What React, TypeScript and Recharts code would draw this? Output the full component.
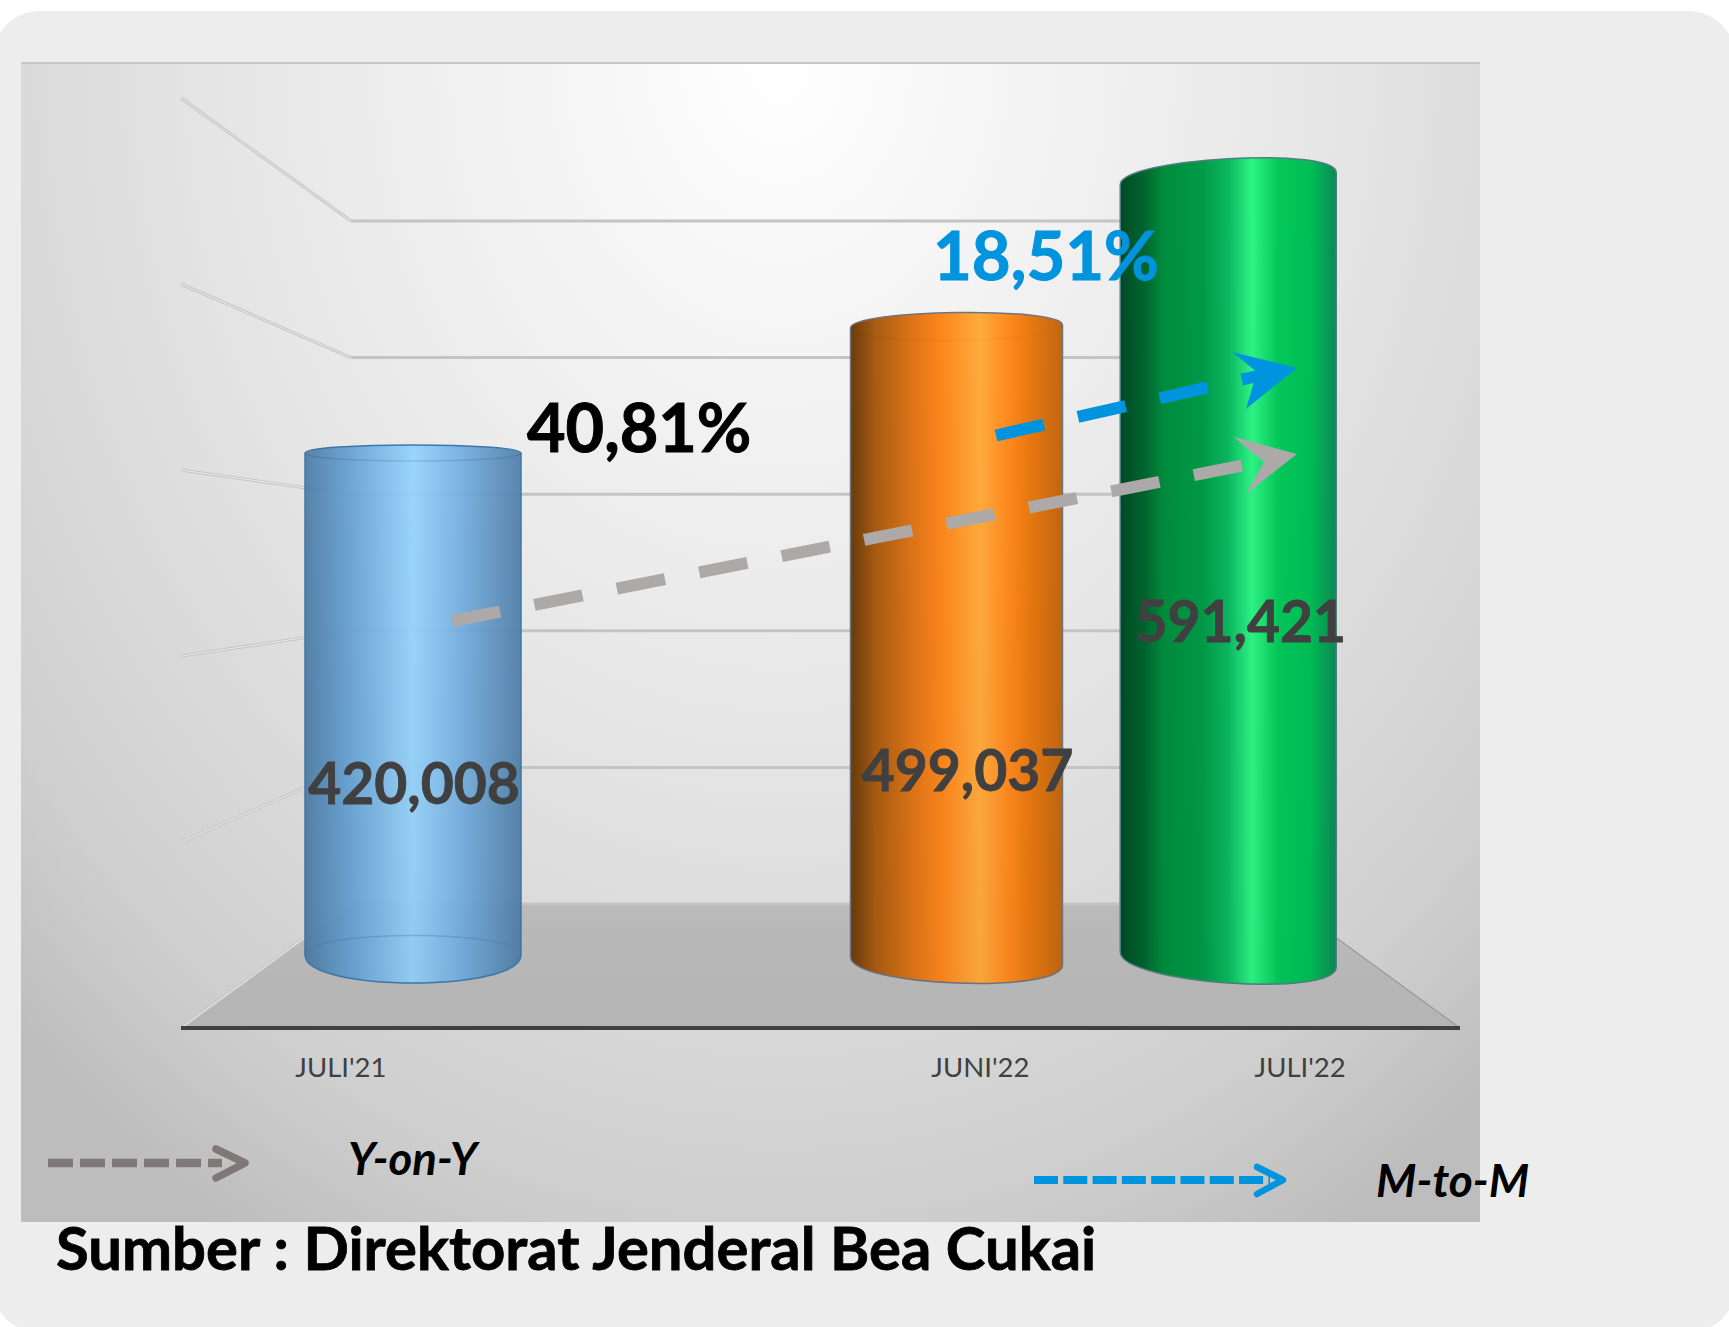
import React from "react";
import { BarChart, Bar, XAxis, YAxis, LabelList } from "recharts";

const categories = ["JULI'21", "", "JUNI'22", "JULI'22"];
const ekspor = [420008, null, 499037, 591421];
const wallTicks = [100000, 200000, 300000, 400000, 500000, 600000];
const yoyLabel = "40,81%";
const mtmLabel = "18,51%";
const sumber = "Sumber : Direktorat Jenderal Bea Cukai";

const data = categories.map((name, i) => ({ name, ekspor: ekspor[i] }));

const FONT = "Lato, sans-serif";

// how each cylinder sits in the fake 3D view, offsets from the bar rect
// the blank category draws no bar so there are only three of these
const looks = [
  { fill: "cylBlue", opacity: 0.92, edge: "#3f78a8", inset: 0, topL: 0, topR: 0, rise: 8, botL: -2, botR: -2, drop: 28, cap: 0.1, labelDx: 1, labelY: 804 },
  { fill: "cylOrange", opacity: 1, edge: "#6d7680", inset: 2, topL: 1.5, topR: -1.5, rise: 14, botL: 0, botR: 8, drop: 22, cap: 0.03, labelDx: 11, labelY: 791 },
  { fill: "cylGreen", opacity: 1, edge: "#4f7f80", inset: 0, topL: 6, topR: -6, rise: 20, botL: -5, botR: 10, drop: 23.5, cap: 0, labelDx: 12, labelY: 642 },
];

const Cylinder = (props: any) => {
  const { x, y, width, height, index } = props;
  const look = looks[index];
  const xl = x + look.inset;
  const xr = x + width - look.inset;
  const base = y + height;
  const yl = y + look.topL;
  const yr = y + look.topR;
  const bl = base + look.botL;
  const br = base + look.botR;
  const rise = (look.rise * 4) / 3;
  const drop = (look.drop * 4) / 3;
  const body = `M${xl},${yl} C${xl},${yl - rise} ${xr},${yr - rise} ${xr},${yr} L${xr},${br} C${xr},${br + drop} ${xl},${bl + drop} ${xl},${bl} Z`;
  const capFront = `M${xl},${yl} C${xl},${yl + rise} ${xr},${yr + rise} ${xr},${yr}`;
  const baseBack = `M${xl},${bl} C${xl},${bl - drop * 0.7} ${xr},${br - drop * 0.7} ${xr},${br}`;
  return (
    <g>
      <path d={body} fill={`url(#${look.fill})`} fillOpacity={look.opacity} stroke={look.edge} strokeWidth={1.5} />
      <path d={body} fill="url(#cylShade)" stroke="none" />
      <path d={capFront} fill="none" stroke="#000" strokeOpacity={look.cap} strokeWidth={1.5} />
      {index === 0 && <path d={baseBack} fill="none" stroke="#3f78a8" strokeOpacity={0.35} strokeWidth={1.5} />}
    </g>
  );
};

const CylinderLabel = (props: any) => {
  const { x, width, value, index } = props;
  if (value == null) return null;
  const look = looks[index];
  return (
    <text x={x + width / 2 + look.labelDx} y={look.labelY} textAnchor="middle" fontFamily={FONT} fontWeight={700} fontSize={57} fill="#404040" stroke="#404040" strokeWidth={0.8}>
      {Number(value).toLocaleString("en-US")}
    </text>
  );
};

// back wall lines, the tick y comes from the back wall axis
const WallTick = (props: any) => {
  const { y } = props;
  const frontY = 1028 - (904 - y) * (930 / 683);
  return (
    <g>
      <line x1={181} y1={frontY} x2={351} y2={y} stroke="#c4c4c4" strokeWidth={3} />
      <line x1={181} y1={frontY} x2={351} y2={y} stroke="#ececec" strokeWidth={1} />
      <line x1={351} y1={y} x2={1290} y2={y} stroke="#c4c4c4" strokeWidth={3} />
    </g>
  );
};

const Arrow = ({ d, head, color }: { d: string; head: string; color: string }) => (
  <g>
    <path d={d} fill="none" stroke={color} strokeWidth={12} strokeDasharray="49 35" />
    <polygon points={head} fill={color} />
  </g>
);

export default function App() {
  return (
    <div style={{ position: "absolute", left: 0, top: 0, width: 1729, height: 1327, background: "#fff", overflow: "hidden" }}>
      <div style={{ position: "absolute", left: -8, top: 11, width: 1744, height: 1322, borderRadius: 48, background: "#ededed" }} />
      <div
        style={{
          position: "absolute",
          left: 21,
          top: 62,
          width: 1459,
          height: 1160,
          boxSizing: "border-box",
          borderTop: "2px solid #c8c8c8",
          background: "radial-gradient(ellipse 1100px 1350px at 52% 0%, #ffffff 0%, #e6e6e6 50%, #cfcfcf 85%, #bdbdbd 100%)",
        }}
      />

      {/* walls and floor go in their own chart so the cylinders stay on top */}
      <div style={{ position: "absolute", left: 0, top: 0 }}>
        <BarChart width={1729} height={1327} data={data} margin={{ top: 60, right: 269, bottom: 269, left: 180 }}>
          <defs>
            <linearGradient id="floorFill" x1="0" x2="0" y1="0" y2="1">
              <stop offset="0" stopColor="#bababa" />
              <stop offset="1" stopColor="#b4b4b4" />
            </linearGradient>
          </defs>
          <polygon points="181,1028 1460,1028 1290,904 351,904" fill="url(#floorFill)" />
          <line x1={1460} y1={1028} x2={1290} y2={904} stroke="#9a9a9a" strokeWidth={1.2} />
          <YAxis
            yAxisId="wall"
            width={1}
            domain={[100000, 600000]}
            allowDataOverflow
            ticks={wallTicks}
            padding={{ top: 161, bottom: 124 }}
            axisLine={false}
            tickLine={false}
            interval={0}
            tick={(p: any) => <WallTick {...p} />}
          />
          <XAxis dataKey="name" height={30} axisLine={false} tickLine={false} tick={false} />
          <Bar dataKey="ekspor" yAxisId="wall" shape={() => null} isAnimationActive={false} />
        </BarChart>
      </div>

      <div style={{ position: "absolute", left: 0, top: 0 }}>
        <BarChart width={1729} height={1327} data={data} margin={{ top: 60, right: 269, bottom: 269, left: 181 }} barSize={216}>
          <defs>
            <linearGradient id="cylBlue" x1="0" x2="1" y1="0" y2="0">
              <stop offset="0" stopColor="#4a7aa4" />
              <stop offset="0.2" stopColor="#629ed2" />
              <stop offset="0.5" stopColor="#93d3fd" />
              <stop offset="0.72" stopColor="#72aee2" />
              <stop offset="1" stopColor="#4c7da6" />
            </linearGradient>
            <linearGradient id="cylOrange" x1="0" x2="1" y1="0" y2="0">
              <stop offset="0" stopColor="#6a3a0c" />
              <stop offset="0.12" stopColor="#a95c12" />
              <stop offset="0.3" stopColor="#e07518" />
              <stop offset="0.43" stopColor="#fd861c" />
              <stop offset="0.61" stopColor="#ffab3d" />
              <stop offset="0.74" stopColor="#ff8a1f" />
              <stop offset="0.85" stopColor="#e8780f" />
              <stop offset="1" stopColor="#c06612" />
            </linearGradient>
            <linearGradient id="cylGreen" x1="0" x2="1" y1="0" y2="0">
              <stop offset="0" stopColor="#004a25" />
              <stop offset="0.115" stopColor="#00662f" />
              <stop offset="0.2" stopColor="#008c3d" />
              <stop offset="0.38" stopColor="#009a48" />
              <stop offset="0.5" stopColor="#0bb860" />
              <stop offset="0.61" stopColor="#2ef585" />
              <stop offset="0.73" stopColor="#04c85a" />
              <stop offset="0.88" stopColor="#00be55" />
              <stop offset="1" stopColor="#0c8a55" />
            </linearGradient>
            <linearGradient id="cylShade" x1="0" x2="0" y1="0" y2="1">
              <stop offset="0" stopColor="#000" stopOpacity={0} />
              <stop offset="1" stopColor="#000" stopOpacity={0.03} />
            </linearGradient>
          </defs>

          <YAxis yAxisId="bars" hide domain={[105000, 650000]} padding={{ top: 25, bottom: 71 }} />
          <XAxis
            xAxisId="front"
            dataKey="name"
            height={30}
            axisLine={{ stroke: "#404040", strokeWidth: 4 }}
            tickLine={false}
            interval={0}
            tickMargin={23}
            tick={{ fontFamily: FONT, fontSize: 27.5, fill: "#404040" }}
          />
          <XAxis xAxisId="bars" dataKey="name" hide height={0} padding={{ left: 96, right: 96 }} />

          <Bar
            dataKey="ekspor"
            xAxisId="bars"
            yAxisId="bars"
            shape={<Cylinder />}
            isAnimationActive={false}
          >
            <LabelList dataKey="ekspor" content={<CylinderLabel />} />
          </Bar>
        </BarChart>
      </div>

      {/* annotations sit over the cylinders so they get their own layer */}
      <svg width={1729} height={1327} style={{ position: "absolute", left: 0, top: 0, pointerEvents: "none" }}>
        <Arrow d="M452,621 L1250,464" head="1297,454 1234,437 1264,462 1246,494" color="#ada9a8" />
        <Arrow d="M996,435.5 L1260,375.5" head="1297,368 1232,352 1257,372 1246,409" color="#0094de" />

        <text x={527} y={452} fontFamily={FONT} fontWeight={700} fontSize={66.5} fill="#000" stroke="#000" strokeWidth={1}>{yoyLabel}</text>
        <text x={933} y={280} fontFamily={FONT} fontWeight={700} fontSize={67} fill="#0094de" stroke="#0094de" strokeWidth={1}>{mtmLabel}</text>

        <path d="M48,1163 L222,1163" fill="none" stroke="#7f7877" strokeWidth={8.5} strokeDasharray="25 7" />
        <polyline points="216,1149 245,1163 216,1178" fill="none" stroke="#7f7877" strokeWidth={7.5} strokeLinecap="round" strokeLinejoin="round" />
        <text x={348} y={1175} fontFamily={FONT} fontWeight={700} fontStyle="italic" fontSize={45.5} fill="#000">Y-on-Y</text>

        <path d="M1034,1180 L1270,1180" fill="none" stroke="#0094de" strokeWidth={8} strokeDasharray="24 5.3" />
        <polyline points="1257,1167 1283,1180 1257,1194" fill="none" stroke="#0094de" strokeWidth={6.5} strokeLinecap="round" strokeLinejoin="round" />
        <text x={1376} y={1197} fontFamily={FONT} fontWeight={700} fontStyle="italic" fontSize={46} fill="#000">M-to-M</text>

        <text x={56} y={1270} fontFamily={FONT} fontWeight={700} fontSize={59.8} fill="#000" stroke="#000" strokeWidth={0.8}>{sumber}</text>
      </svg>
    </div>
  );
}
